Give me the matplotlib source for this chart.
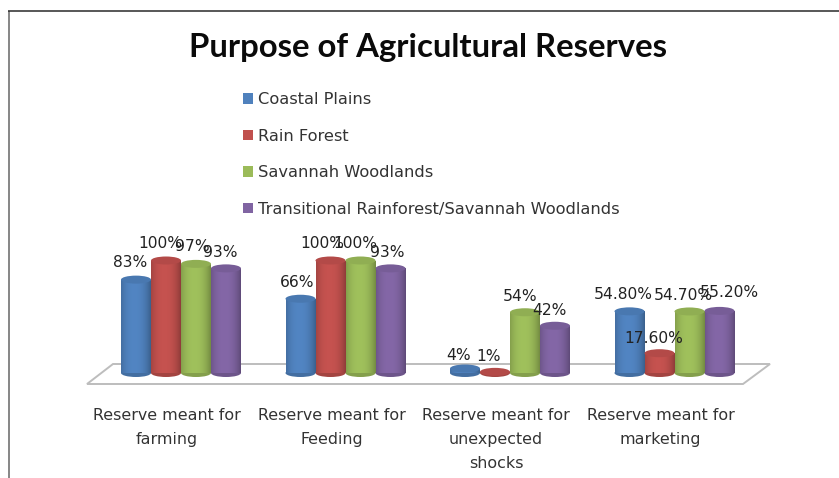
import numpy as np
import matplotlib
matplotlib.use("Agg")
import matplotlib.pyplot as plt
from matplotlib.patches import Ellipse, Polygon, Rectangle
from matplotlib.colors import to_rgb

title = "Purpose of Agricultural Reserves"
categories = ["Reserve meant for\nfarming", "Reserve meant for\nFeeding",
              "Reserve meant for\nunexpected\nshocks", "Reserve meant for\nmarketing"]
series_names = ["Coastal Plains", "Rain Forest", "Savannah Woodlands",
                "Transitional Rainforest/Savannah Woodlands"]
coastal = [83, 66, 4, 54.8]
rain_forest = [100, 100, 1, 17.6]
savannah = [97, 100, 54, 54.7]
transitional = [93, 93, 42, 55.2]
labels_coastal = ["83%", "66%", "4%", "54.80%"]
labels_rain = ["100%", "100%", "1%", "17.60%"]
labels_savannah = ["97%", "100%", "54%", "54.70%"]
labels_transitional = ["93%", "93%", "42%", "55.20%"]

colors = ["#4f81bd", "#c0504d", "#9bbb59", "#8064a2"]
# label nudges in pixels (dx, dy) relative to each bar's top centre
nudges = [
    [(-6, 17), (-3, 16), (-6, 13.5), (-6, 17)],
    [(-6, 17.5), (-8, 17.5), (-6, 15), (-6, 15)],
    [(-4, 17), (-5, 17.5), (-5, 16), (-6, 15.5)],
    [(-6, 16), (-3, 16), (-6, 15), (10, 18)],
]

W, H = 839, 478
fig = plt.figure(figsize=(W / 100, H / 100), dpi=100, facecolor="white")

# decoration layer in pixel coordinates
deco = fig.add_axes([0, 0, 1, 1], zorder=0)
deco.set_xlim(0, W)
deco.set_ylim(H, 0)
deco.axis("off")
deco.plot([8.5, 8.5], [H, 10.5], color="#666666", lw=1.1, solid_capstyle="butt")
deco.plot([8, W], [10.5, 10.5], color="#2a2a2a", lw=1.1, solid_capstyle="butt")
deco.add_patch(Polygon([(113, 364), (770, 364), (743, 384), (87, 384)], closed=True,
                       facecolor="white", edgecolor="#bdbdbd", lw=1.4))

# data layer: category index on x, percent on y
PX_X0, PX_DX = 181.0, 164.5
PX_Y0, PX_DY = 373.0, 1.125
ax = fig.add_axes([0, 0, 1, 1], zorder=1)
ax.patch.set_alpha(0)
xlim = (-PX_X0 / PX_DX, (W - PX_X0) / PX_DX)
ylim = ((PX_Y0 - H) / PX_DY, PX_Y0 / PX_DY)
ax.axis("off")

bar_w = 30 / PX_DX
ell_h = 8 / PX_DY
all_series = [coastal, rain_forest, savannah, transitional]
all_labels = [labels_coastal, labels_rain, labels_savannah, labels_transitional]
t = np.linspace(0, 1, 64)
shade = 1.03 - 0.20 * np.abs(t - 0.45) ** 2.4 * 6.0

for s, (vals, col) in enumerate(zip(all_series, colors)):
    base = np.array(to_rgb(col))
    xs = np.arange(len(vals)) + (s - 1.5) * bar_w
    z = 10 + s * 3
    bars = ax.bar(xs, vals, width=bar_w, color=col, linewidth=0, zorder=z)
    grad = np.clip(base[None, None, :] * shade[None, :, None], 0, 1)
    for x, v, b in zip(xs, vals, bars):
        ax.add_patch(Ellipse((x, 0), bar_w, ell_h, facecolor=base * 0.85, lw=0, zorder=z))
        im = ax.imshow(grad, extent=(x - bar_w / 2, x + bar_w / 2, 0, v), aspect="auto", zorder=z + 0.5)
        im.set_clip_path(b)
        ax.add_patch(Ellipse((x, v), bar_w, ell_h, facecolor=base * 0.93, lw=0, zorder=z + 1))

ax.set_xlim(*xlim)
ax.set_ylim(*ylim)

for s, (vals, labs) in enumerate(zip(all_series, all_labels)):
    xs = np.arange(len(vals)) + (s - 1.5) * bar_w
    for i, (x, v, lab) in enumerate(zip(xs, vals, labs)):
        ax.annotate(lab, (x, v), xytext=nudges[s][i], textcoords="offset pixels",
                    ha="center", va="center", fontsize=11.2, color="#222222", zorder=40)

for i, cat in enumerate(categories):
    deco.text(PX_X0 + PX_DX * i - 14, 408, cat, ha="center", va="top", fontsize=11.4,
              color="#333333", linespacing=1.74)

deco.text(428, 47, title, ha="center", va="center", fontsize=23.7, fontweight="bold",
          family="Lato", color="#0a0a0a")

handles = [Rectangle((0, 0), 1, 1, facecolor=c, lw=0) for c in colors]
fig.legend(handles, series_names, loc="upper left", bbox_to_anchor=(243 / W, 1 - 92 / H),
           bbox_transform=fig.transFigure, frameon=False, fontsize=11.7,
           handlelength=0.62, handleheight=0.62, handletextpad=0.3, labelspacing=1.33,
           labelcolor="#333333", borderpad=0, borderaxespad=0)

fig.savefig("out.png", dpi=100)
